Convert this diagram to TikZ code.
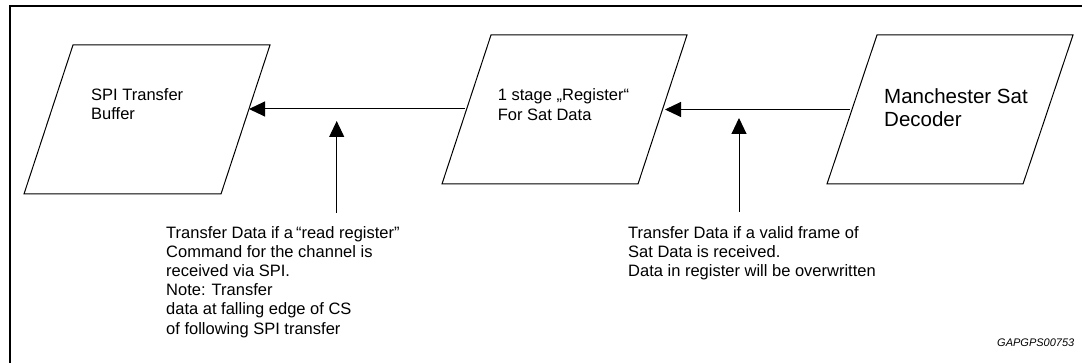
\documentclass[tikz,border=0pt]{standalone}
\usepackage{fontspec}
\setmainfont{Liberation Sans}
\usetikzlibrary{arrows.meta}
\begin{document}
\begin{tikzpicture}[x=1pt,y=-1pt,
  para/.style={draw,line width=1pt,line join=miter},
  lbl/.style={anchor=north west,inner sep=0pt,align=left,font=\fontsize{16.5}{19.2}\selectfont},
  big/.style={anchor=north west,inner sep=0pt,align=left,font=\fontsize{20.5}{23}\selectfont},
  arr/.style={line width=1pt,-{Triangle[length=16pt,width=15pt]}}]
\useasboundingbox (0,0) rectangle (1082,363);
\clip (0,0) rectangle (1082,363);
\draw[line width=1.5pt] (1090,6) -- (10,6) -- (10,370);
% shapes
\draw[para] (24,194) -- (221,194) -- (270,45) -- (73,45) -- cycle;
\draw[para] (442,184) -- (638,184) -- (687,35) -- (491,35) -- cycle;
\draw[para] (827,184) -- (1023,184) -- (1073,35) -- (877,35) -- cycle;
% edge points of the shapes
\coordinate (spiE) at (249,109);
\coordinate (regW) at (465,109);
\coordinate (regE) at (665,109.5);
\coordinate (manW) at (850,109.5);
% texts in shapes
\node[lbl] (spit) at (91,88) {SPI Transfer\\Buffer};
\node[lbl] (regt) at (497.7,88.7) {1 stage „Register“\\For Sat Data};
\node[big] (mant) at (884,88) {Manchester Sat\\Decoder};
% notes
\node[lbl] (n1) at (166,226) {Transfer Data if a\kern3pt“read register”\\Command for the channel is\\received via SPI.\\Note: Transfer\\data at falling edge of CS\\of following SPI transfer};
\node[lbl] (n2) at (628,226) {Transfer Data if a valid frame of\\Sat Data is received.\\Data in register will be overwritten};
\node[anchor=base west,inner sep=0pt,font=\fontsize{11}{13}\selectfont\itshape] (id) at (997,347) {GAPGPS00753};
% connectors
\draw[arr] (regW) -- (spiE);
\draw[arr] (manW) -- (regE);
\coordinate (a1b) at (336.7,213);
\coordinate (a1t) at (336.7,121);
\coordinate (a2b) at (739,212);
\coordinate (a2t) at (739,118);
\draw[arr] (a1b) -- (a1t);
\draw[arr] (a2b) -- (a2t);
\end{tikzpicture}
\end{document}
